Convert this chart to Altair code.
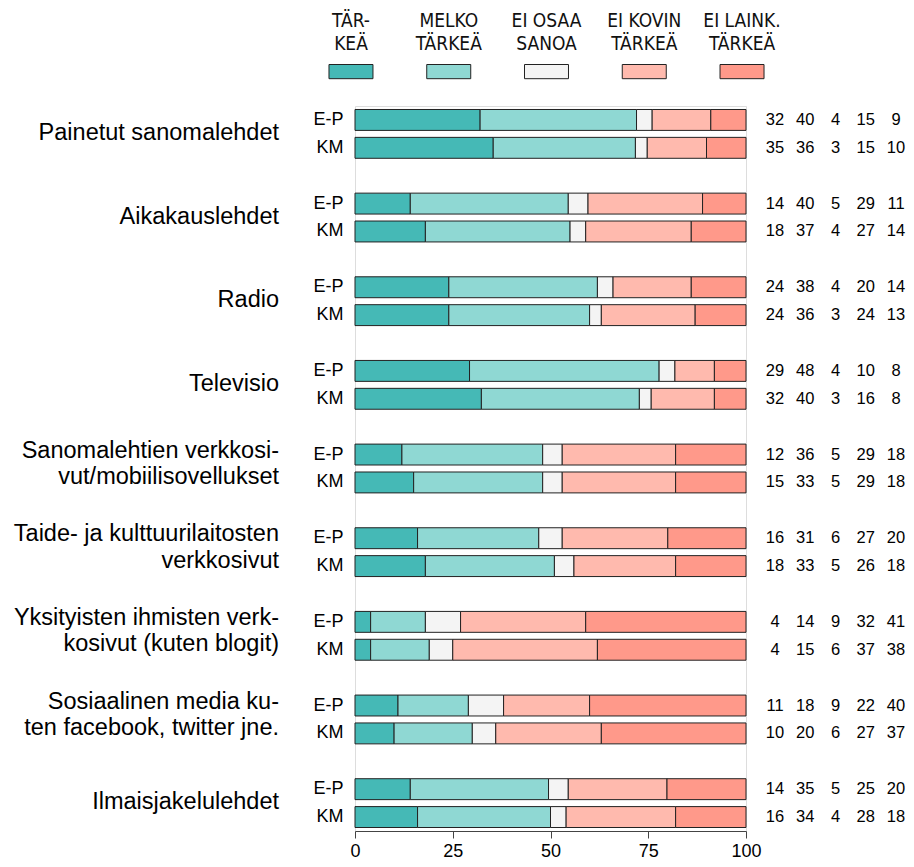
import altair as alt
import pandas as pd

# ---- data ----
groups = [
    "Painetut sanomalehdet",
    "Aikakauslehdet",
    "Radio",
    "Televisio",
    "Sanomalehtien verkkosi-|vut/mobiilisovellukset",
    "Taide- ja kulttuurilaitosten|verkkosivut",
    "Yksityisten ihmisten verk-|kosivut (kuten blogit)",
    "Sosiaalinen media ku-|ten facebook, twitter jne.",
    "Ilmaisjakelulehdet",
]
subs = ["E-P", "KM"]
cats = ["TÄRKEÄ", "MELKO TÄRKEÄ", "EI OSAA SANOA", "EI KOVIN TÄRKEÄ", "EI LAINK. TÄRKEÄ"]
cat_labels = ["TÄR-|KEÄ", "MELKO|TÄRKEÄ", "EI OSAA|SANOA", "EI KOVIN|TÄRKEÄ", "EI LAINK.|TÄRKEÄ"]
colors = ["#45B9B6", "#8FD8D3", "#F4F4F4", "#FFBAAE", "#FF998A"]

values_ep = [
    [32, 40, 4, 15, 9],
    [14, 40, 5, 29, 11],
    [24, 38, 4, 20, 14],
    [29, 48, 4, 10, 8],
    [12, 36, 5, 29, 18],
    [16, 31, 6, 27, 20],
    [4, 14, 9, 32, 41],
    [11, 18, 9, 22, 40],
    [14, 35, 5, 25, 20],
]
values_km = [
    [35, 36, 3, 15, 10],
    [18, 37, 4, 27, 14],
    [24, 36, 3, 24, 13],
    [32, 40, 3, 16, 8],
    [15, 33, 5, 29, 18],
    [18, 33, 5, 26, 18],
    [4, 15, 6, 37, 38],
    [10, 20, 6, 27, 37],
    [16, 34, 4, 28, 18],
]
x_ticks = [0, 25, 50, 75, 100]

# ---- tables ----
rows_domain = []
for i in range(len(groups)):
    rows_domain += [f"{i}|E-P", f"{i}|KM"]
    if i < len(groups) - 1:
        rows_domain.append(f"{i}|gap")

recs = []
for i, g in enumerate(groups):
    for s, vals in (("E-P", values_ep[i]), ("KM", values_km[i])):
        for ci, (c, v) in enumerate(zip(cats, vals)):
            recs.append({"row": f"{i}|{s}", "cat": c, "ci": ci, "value": v})
df = pd.DataFrame(recs)

glab = pd.DataFrame({"row": [f"{i}|E-P" for i in range(len(groups))], "label": groups})
leg = pd.DataFrame({"cat": cats, "label": cat_labels})

FONT = "Liberation Sans"

yscale = alt.Scale(domain=rows_domain, paddingInner=0.25, paddingOuter=0.125)
cscale = alt.Scale(domain=cats, range=colors)

bars = alt.Chart(df).mark_bar(stroke="#222222", strokeWidth=1).encode(
    x=alt.X("value:Q", stack="normalize",
            scale=alt.Scale(domain=[0, 1], nice=False),
            axis=alt.Axis(values=[t / 100 for t in x_ticks],
                          labelExpr="format(datum.value*100, 'd')",
                          title=None, grid=False, tickSize=7, labelPadding=4,
                          labelFlush=False,
                          labelFontSize=18, labelFont=FONT, labelColor="#000",
                          domainColor="#444", tickColor="#444")),
    y=alt.Y("row:N", scale=yscale, sort=rows_domain,
            axis=alt.Axis(title=None, domain=False, ticks=False, tickSize=0,
                          labelPadding=12, labelFontSize=18, labelFont=FONT,
                          labelColor="#000",
                          labelExpr="split(datum.value,'|')[1] == 'gap' ? '' : split(datum.value,'|')[1]")),
    color=alt.Color("cat:N", scale=cscale, legend=None),
    order=alt.Order("ci:Q"),
)

gbase = alt.Chart(glab).transform_calculate(
    lines="split(datum.label, '|')",
    multi="indexof(datum.label, '|') >= 0",
)
group_one = gbase.transform_filter("!datum.multi").mark_text(
    align="right", baseline="middle", fontSize=23.5, font=FONT,
    dx=-76, yOffset=13, color="#000").encode(
    x=alt.datum(0),
    y=alt.Y("row:N", scale=yscale, sort=rows_domain),
    text="label:N",
)
group_two = gbase.transform_filter("datum.multi").mark_text(
    align="right", baseline="middle", fontSize=23.5, font=FONT,
    lineHeight=26.5, dx=-76, yOffset=-4, color="#000").encode(
    x=alt.datum(0),
    y=alt.Y("row:N", scale=yscale, sort=rows_domain),
    text="lines:N",
)

main = alt.layer(bars, group_one, group_two)

nums = alt.Chart(df).mark_text(baseline="middle", align="center", fontSize=16.5,
                               font=FONT, color="#000").encode(
    x=alt.X("cat:N", scale=alt.Scale(type="point", domain=cats, range=[420, 541], padding=0),
            axis=None),
    y=alt.Y("row:N", scale=yscale, sort=rows_domain),
    text="value:Q",
)

legx = alt.Scale(type="band", domain=cats, range=[-52.9, 435.9], paddingInner=0.55, paddingOuter=0.275)
leg_rect = alt.Chart(leg).mark_rect(stroke="#222222", strokeWidth=1).encode(
    x=alt.X("cat:N", scale=legx, axis=None),
    y=alt.value(-41.5),
    y2=alt.value(-27.3),
    color=alt.Color("cat:N", scale=cscale, legend=None),
)
leg_text = alt.Chart(leg).transform_calculate(
    lines="split(datum.label, '|')"
).mark_text(align="center", baseline="middle", fontSize=19,
            font="Liberation Sans Narrow, DejaVu Sans Condensed, Liberation Sans",
            lineHeight=22.5, color="#111").encode(
    x=alt.X("cat:N", scale=legx, axis=None),
    y=alt.value(-85),
    text="lines:N",
)
legend = alt.layer(leg_rect, leg_text)

chart = alt.layer(main, nums, legend).resolve_scale(x="independent").properties(
    width=391, height=725,
    autosize=alt.AutoSizeParams(type="none"),
    padding={"left": 347, "top": 98, "right": 160, "bottom": 28},
).configure_view(strokeWidth=0, stroke="transparent").configure(background="white")

chart.save("out.html", embed_options={"renderer": "svg", "actions": False})
